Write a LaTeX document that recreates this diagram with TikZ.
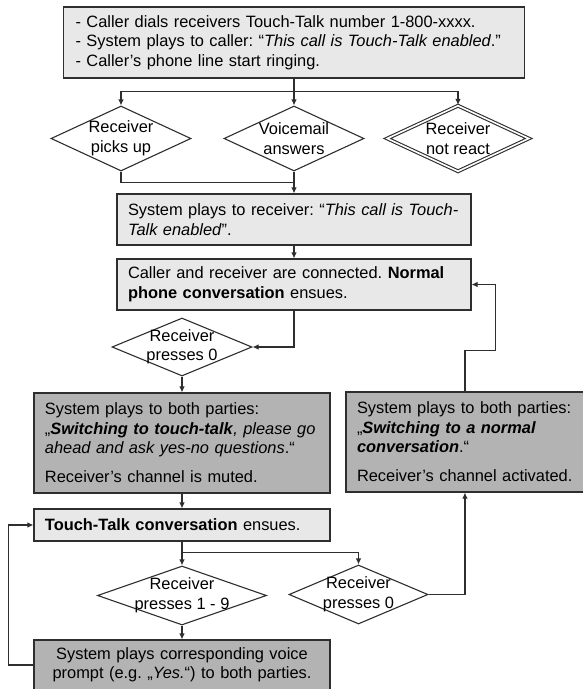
\documentclass[tikz,border=0pt]{standalone}
\usepackage{fontspec}
\setmainfont{Liberation Sans}
\usetikzlibrary{shapes.geometric,arrows.meta,calc}
\definecolor{lightbox}{HTML}{E8E8E8}
\definecolor{darkbox}{HTML}{B3B3B3}
\definecolor{edge}{HTML}{2E2E2E}
\newcommand\fsz{\fontsize{16.4}{19.5}\selectfont}
\tikzset{
  box/.style={draw=edge, line width=1.1pt, rectangle, inner sep=0pt, font=\fsz, align=left},
  lbox/.style={box, fill=lightbox},
  dbox/.style={box, fill=darkbox},
  dec/.style={draw=edge, line width=1.1pt, diamond, inner sep=0pt, minimum width=140pt, minimum height=65pt, fill=white},
  ln/.style={draw=edge, line width=1.1pt},
  arr/.style={ln, -{Latex[length=6pt,width=5.5pt]}},
  dlab/.style={font=\fsz, align=center, inner sep=0pt}
}
\begin{document}
\frenchspacing
\begin{tikzpicture}[x=1pt,y=-1pt]
\useasboundingbox (0,0) rectangle (582,689);
\fill[white] (0,0) rectangle (582,689);

\node[lbox, minimum width=461pt, minimum height=71pt, text width=437pt] (top) at (294,42.5)
  {\mbox{- Caller dials receivers Touch-Talk number 1-800-xxxx.}\\
   \mbox{- System plays to caller: “\textit{This call is Touch-Talk enabled}.”}\\
   \mbox{- Caller’s phone line start ringing.}};

\node[dec, label={[dlab]center:Receiver\\picks up}] (d1) at (121,138.5) {};
\node[dec, label={[dlab]center:Voicemail\\answers}] (d2) at (294,138.5) {};
\node[dec, double, double distance=1.6pt, minimum width=142pt, minimum height=66pt,
  label={[dlab]center:Receiver\\not react}] (d3) at (458,138.5) {};

\node[lbox, minimum width=354pt, minimum height=51pt, text width=332pt] (box2) at (294,219.5)
  {\mbox{System plays to receiver: “\textit{This call is Touch-}}\\\mbox{\textit{Talk enabled}”.}};
\node[lbox, minimum width=354pt, minimum height=51pt, text width=332pt] (box3) at (294,284.5)
  {\mbox{Caller and receiver are connected. \textbf{Normal}}\\\mbox{\textbf{phone conversation} ensues.}};

\node[dec, minimum height=58pt, label={[dlab]center:Receiver\\presses 0}] (dp0) at (182,347) {};

\node[dbox, minimum width=296pt, minimum height=100pt, text width=274pt] (box4) at (182,443)
  {\mbox{System plays to both parties:}\\
   \mbox{„\textbf{\textit{Switching to touch-talk}}\textit{, please go}}\\
   \mbox{\textit{ahead and ask yes-no questions}.“}\\[9.5pt]
   \mbox{Receiver’s channel is muted.}};
\node[dbox, minimum width=254pt, minimum height=100pt, text width=232pt] (box5) at (473,442)
  {\mbox{System plays to both parties:}\\
   \mbox{„\textbf{\textit{Switching to a normal}}}\\
   \mbox{\textbf{\textit{conversation}}.“}\\[9.5pt]
   \mbox{Receiver’s channel activated.}};

\node[lbox, minimum width=296pt, minimum height=32pt, text width=274pt] (box6) at (182,525)
  {\mbox{\textbf{Touch-Talk conversation} ensues.}};

\node[dec, minimum width=169pt, minimum height=59pt, label={[dlab]center:Receiver\\presses 1 - 9}] (d19) at (182,595.5) {};
\node[dec, minimum width=139pt, minimum height=59pt, label={[dlab]center:Receiver\\presses 0}] (d0b) at (358.5,594.5) {};

\node[dbox, minimum width=296pt, minimum height=50pt, text width=274pt, align=center] (box7) at (182,665)
  {System plays corresponding voice\\prompt (e.g. „\textit{Yes.}“) to both parties.};

% connectors
\draw[arr] (top.south) -- (d2.north);
\draw[arr] (top.south) -- ++(0,13) -| (d1.north);
\draw[arr] (top.south) -- ++(0,13) -| (d3.north);
\draw[ln] (d1.south) |- ($(d2.south)!0.5!(box2.north)$);
\draw[arr] (d2.south) -- (box2.north);
\draw[arr] (box2.south) -- (box3.north);
\draw[arr] (box3.south) |- (dp0.east);
\draw[arr] (dp0.south) -- (box4.north);
\draw[arr] (box4.south) -- (box6.north);
\draw[arr] (box6.south) -- (d19.north);
\draw[arr] (box6.south) -- ++(0,11) -| (d0b.north);
\draw[arr] (d19.south) -- (box7.north);
\draw[arr] (box7.west) -- ++(-25,0) |- (box6.west);
\draw[arr] (d0b.east) -| ([xshift=119.5pt]box5.south west);
\draw[arr] ([xshift=119.5pt]box5.north west) -- ++(0,-41) -- ++(30.5,0) |- (box3.east);
\end{tikzpicture}
\end{document}
